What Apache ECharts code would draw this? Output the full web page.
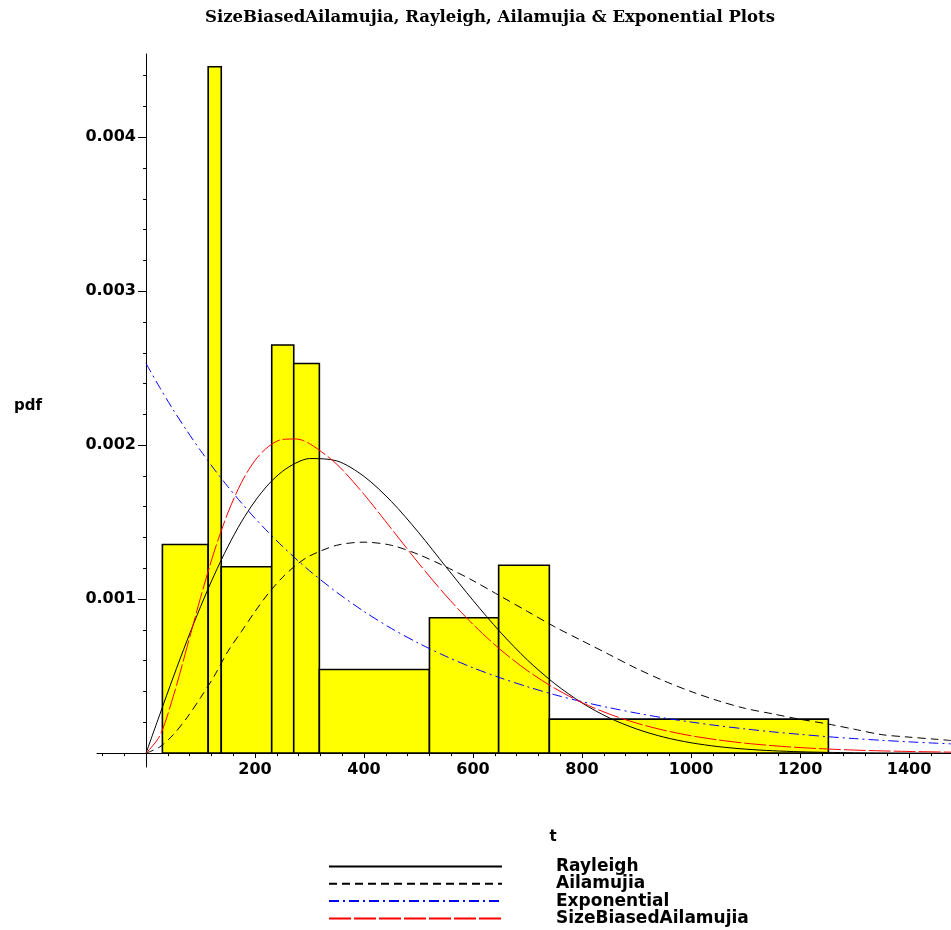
<!DOCTYPE html>
<html>
<head>
<meta charset="utf-8">
<title>SizeBiasedAilamujia, Rayleigh, Ailamujia &amp; Exponential Plots</title>
<script src="https://cdn.jsdelivr.net/npm/echarts@6/dist/echarts.min.js"></script>
<style>
  html, body { margin: 0; padding: 0; background: #fff; }
  #chart { width: 951px; height: 930px; }
</style>
</head>
<body>
<div id="chart"></div>
<script>
// histogram bins
const binLeft = [30, 114, 138, 230.6, 271, 318, 520, 647, 740];
const binRight = [114, 138, 230.6, 271, 318, 520, 647, 740, 1252];
const binHeight = [0.001355, 0.004457, 0.00121, 0.00265, 0.00253, 0.000543, 0.000879, 0.00122, 0.000221];

// curves
const tValues = [0, 25, 50, 75, 100, 125, 150, 175, 200, 225, 250, 275, 300, 350, 400, 450, 500, 550, 600, 650,
  700, 750, 800, 850, 900, 950, 1000, 1050, 1100, 1150, 1200, 1250, 1300, 1350, 1400, 1450, 1477];
const rayleigh = [0, 0.000249, 0.000494, 0.000729, 0.000951, 0.001156, 0.00134, 0.001502, 0.001637, 0.001747,
  0.001829, 0.001884, 0.001913, 0.001898, 0.001797, 0.001635, 0.001433, 0.001211, 0.000992, 0.000786,
  0.000604, 0.000451, 0.000326, 0.000229, 0.000157, 0.000104, 0.0000674, 0.0000424, 0.0000259, 0.0000155,
  0.000009, 0.0000051, 0.0000028, 0.0000015, 0.0000008, 0.0000004, 0.0000002];
const ailamujia = [0, 0.00004, 0.00012, 0.00023, 0.00036, 0.0005, 0.00066, 0.00079, 0.00092, 0.00104,
  0.00114, 0.00122, 0.00128, 0.00135, 0.00137, 0.00135, 0.00129, 0.00121, 0.00112, 0.00102,
  0.00092, 0.00082, 0.00073, 0.00064, 0.00055, 0.00047, 0.0004, 0.00034, 0.00029, 0.000255,
  0.00022, 0.00019, 0.000155, 0.00012, 0.000104, 0.00009, 0.000082];
const exponential = [0.00253, 0.002375, 0.002229, 0.002093, 0.001965, 0.001844, 0.001731, 0.001625, 0.001525, 0.001432,
  0.001344, 0.001262, 0.001184, 0.001044, 0.00092, 0.00081, 0.000714, 0.000629, 0.000554, 0.000489,
  0.000431, 0.000379, 0.000334, 0.000295, 0.00026, 0.000229, 0.000202, 0.000178, 0.000157, 0.000138,
  0.000122, 0.000107, 0.0000944, 0.0000832, 0.0000733, 0.0000646, 0.0000603];
const sizeBiased = [0, 0.000111, 0.000369, 0.000686, 0.00101, 0.001308, 0.001559, 0.001757, 0.001901, 0.001992,
  0.002037, 0.00204, 0.00201, 0.001876, 0.00168, 0.001458, 0.001234, 0.001024, 0.000836, 0.000673,
  0.000535, 0.000421, 0.000328, 0.000254, 0.000195, 0.000149, 0.000113, 0.0000857, 0.0000645, 0.0000484,
  0.0000361, 0.0000269, 0.0000199, 0.0000147, 0.0000109, 0.000008, 0.0000068];

// ticks
const xMajorTicks = [200, 400, 600, 800, 1000, 1200, 1400];
const xMinorTicks = [-80, -40, 40, 80, 120, 160, 240, 280, 320, 360, 440, 480, 520, 560, 640, 680, 720, 760,
  840, 880, 920, 960, 1040, 1080, 1120, 1160, 1240, 1280, 1320, 1360, 1440];
const yMajorTicks = [0.001, 0.002, 0.003, 0.004];
const yMinorTicks = [0.0002, 0.0004, 0.0006, 0.0008, 0.0012, 0.0014, 0.0016, 0.0018, 0.0022, 0.0024,
  0.0026, 0.0028, 0.0032, 0.0034, 0.0036, 0.0038, 0.0042, 0.0044];

const labelFont = { fontFamily: 'DejaVu Sans', fontWeight: 'bold', fontSize: 16, color: '#000' };
const pairs = arr => tValues.map((t, i) => [t, arr[i]]);

const chart = echarts.init(document.getElementById('chart'));
chart.setOption({
  animation: false,
  backgroundColor: '#fff',
  grid: { left: 97, right: 0, top: 54, bottom: 163, containLabel: false },
  xAxis: [
    {
      type: 'value', min: -90, max: 1477, position: 'bottom',
      axisLine: { onZero: true, lineStyle: { color: '#000', width: 1 } },
      axisTick: { customValues: xMajorTicks, length: 5, lineStyle: { color: '#000' } },
      // labels stay at the grid edge, so pull them up to the axis at 0
      axisLabel: Object.assign({ customValues: xMajorTicks, margin: -5, formatter: v => String(v) }, labelFont),
      splitLine: { show: false }
    },
    {
      type: 'value', min: -90, max: 1477, position: 'bottom',
      axisLine: { show: false, onZero: true },
      axisTick: { customValues: xMinorTicks, length: 3, lineStyle: { color: '#000' } },
      axisLabel: { show: false },
      splitLine: { show: false }
    }
  ],
  yAxis: [
    {
      type: 'value', min: -0.00009, max: 0.00454, position: 'left',
      axisLine: { onZero: true, lineStyle: { color: '#000', width: 1 } },
      axisTick: { customValues: yMajorTicks, length: 8, lineStyle: { color: '#000' } },
      axisLabel: Object.assign({ customValues: yMajorTicks, margin: -39, formatter: v => v.toFixed(3) }, labelFont),
      splitLine: { show: false }
    },
    {
      type: 'value', min: -0.00009, max: 0.00454, position: 'left',
      axisLine: { show: false, onZero: true },
      axisTick: { customValues: yMinorTicks, length: 3, lineStyle: { color: '#000' } },
      axisLabel: { show: false },
      splitLine: { show: false }
    }
  ],
  legend: {
    data: ['Rayleigh', 'Ailamujia', 'Exponential', 'SizeBiasedAilamujia'],
    orient: 'vertical', left: 328, top: 858, height: 72, padding: 0,
    itemWidth: 173, itemHeight: 14, itemGap: 0.3,
    selectedMode: false,
    itemStyle: { opacity: 0 },
    textStyle: { fontFamily: 'DejaVu Sans', fontWeight: 'bold', fontSize: 17, color: '#000', lineHeight: 14, padding: [0, 0, 0, 49] }
  },
  graphic: [
    { type: 'text', x: 490, y: 18, style: { text: 'SizeBiasedAilamujia, Rayleigh, Ailamujia & Exponential Plots', font: 'bold 16.5px "DejaVu Serif"', fill: '#000', align: 'center', verticalAlign: 'middle' } },
    { type: 'text', x: 28, y: 406, style: { text: 'pdf', font: 'bold 15px "DejaVu Sans"', fill: '#000', align: 'center', verticalAlign: 'middle' } },
    { type: 'text', x: 553, y: 837, style: { text: 't', font: 'bold 15px "DejaVu Sans"', fill: '#000', align: 'center', verticalAlign: 'middle' } }
  ],
  series: [
    {
      name: 'histogram', type: 'custom',
      data: binLeft.map((l, i) => [l, binRight[i], binHeight[i]]),
      encode: { x: [0, 1], y: 2 },
      renderItem: function (params, api) {
        const p0 = api.coord([api.value(0), api.value(2)]);
        const p1 = api.coord([api.value(1), 0]);
        return {
          type: 'rect',
          shape: { x: p0[0], y: p0[1], width: p1[0] - p0[0], height: p1[1] - p0[1] },
          style: { fill: '#ffff00', stroke: '#000', lineWidth: 1.6 }
        };
      },
      z: 1
    },
    {
      name: 'Rayleigh', type: 'line', data: pairs(rayleigh), symbol: 'none', smooth: 0.3,
      lineStyle: { color: '#000', width: 1, type: 'solid' }, itemStyle: { color: '#000' }, z: 3
    },
    {
      name: 'Ailamujia', type: 'line', data: pairs(ailamujia), symbol: 'none', smooth: 0.3,
      lineStyle: { color: '#000', width: 1, type: [8, 5] }, itemStyle: { color: '#000' }, z: 3
    },
    {
      name: 'Exponential', type: 'line', data: pairs(exponential), symbol: 'none', smooth: 0.3,
      lineStyle: { color: '#0000ff', width: 1, type: [10, 4, 2, 4] }, itemStyle: { color: '#0000ff' }, z: 3
    },
    {
      name: 'SizeBiasedAilamujia', type: 'line', data: pairs(sizeBiased), symbol: 'none', smooth: 0.3,
      lineStyle: { color: '#ff0000', width: 1, type: [22, 3] }, itemStyle: { color: '#ff0000' }, z: 3
    }
  ]
});
</script>
</body>
</html>
